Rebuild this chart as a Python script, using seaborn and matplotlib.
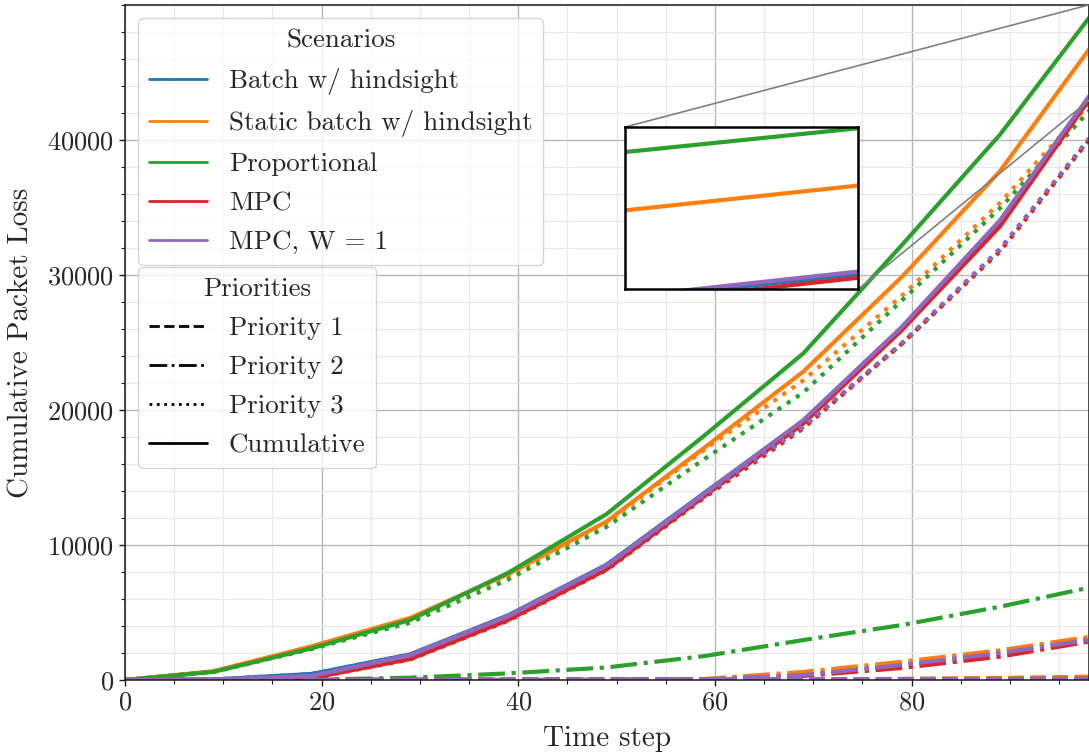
import numpy as np
import pandas as pd
import matplotlib
matplotlib.use("Agg")
import matplotlib.pyplot as plt
import seaborn as sns
from matplotlib.lines import Line2D
from matplotlib.ticker import MultipleLocator, FixedLocator
from mpl_toolkits.axes_grid1.inset_locator import mark_inset

# ---------------- data ----------------
steps = [0, 9, 19, 29, 39, 49, 59, 69, 79, 89, 99]

scenarios = ["Batch w/ hindsight", "Static batch w/ hindsight", "Proportional",
             "MPC", "MPC, W = 1"]
priorities = ["Priority 1", "Priority 2", "Priority 3", "Cumulative"]
colors = ["#1f77b4", "#ff7f0e", "#2ca02c", "#d62728", "#9467bd"]
y_ticks = [0, 10000, 20000, 30000, 40000]

# Batch w/ hindsight
batch_p1 = [0, 0, 10, 20, 30, 40, 50, 60, 70, 80, 90]
batch_p2 = [0, 0, 0, 0, 0, 10, 50, 380, 1150, 2050, 3120]
batch_p3 = [0, 40, 440, 1880, 4770, 8500, 13800, 18760, 24880, 31870, 40890]
batch_cum = [0, 40, 450, 1900, 4800, 8550, 13900, 19200, 26100, 34000, 44100]

# Static batch w/ hindsight
static_p1 = [0, 0, 0, 0, 0, 0, 10, 30, 80, 150, 260]
static_p2 = [0, 0, 0, 0, 0, 10, 80, 600, 1350, 2200, 3300]
static_p3 = [0, 650, 2450, 4550, 7750, 11650, 17100, 22200, 28450, 35350, 43400]
static_cum = [0, 650, 2500, 4600, 7850, 11750, 17250, 22850, 29850, 37700, 47650]

# Proportional
prop_p1 = [0, 0, 0, 0, 0, 0, 0, 0, 10, 10, 20]
prop_p2 = [0, 0, 20, 170, 490, 930, 1780, 2960, 4070, 5430, 6990]
prop_p3 = [0, 600, 2300, 4250, 7450, 11350, 16400, 21300, 28100, 34950, 42900]
prop_cum = [0, 600, 2350, 4450, 7950, 12300, 18150, 24200, 32200, 40400, 49950]

# MPC
mpc_p1 = [0, 0, 10, 20, 30, 40, 50, 60, 70, 80, 90]
mpc_p2 = [0, 0, 0, 0, 0, 0, 30, 300, 890, 1730, 2960]
mpc_p3 = [0, 20, 140, 1520, 4400, 8150, 13550, 18650, 24900, 31750, 40850]
mpc_cum = [0, 20, 150, 1550, 4450, 8200, 13650, 19000, 25900, 33600, 43950]

# MPC, W = 1
mpcw_p1 = [0, 0, 10, 20, 30, 40, 50, 60, 70, 80, 90]
mpcw_p2 = [0, 0, 0, 0, 0, 10, 50, 370, 1110, 2000, 3080]
mpcw_p3 = [0, 30, 290, 1830, 4720, 8450, 13750, 18800, 24950, 31950, 40950]
mpcw_cum = [0, 30, 300, 1850, 4750, 8500, 13850, 19250, 26150, 34050, 44200]

series = {
    scenarios[0]: [batch_p1, batch_p2, batch_p3, batch_cum],
    scenarios[1]: [static_p1, static_p2, static_p3, static_cum],
    scenarios[2]: [prop_p1, prop_p2, prop_p3, prop_cum],
    scenarios[3]: [mpc_p1, mpc_p2, mpc_p3, mpc_cum],
    scenarios[4]: [mpcw_p1, mpcw_p2, mpcw_p3, mpcw_cum],
}

rows = []
for scen, lists in series.items():
    for prio, vals in zip(priorities, lists):
        for s, v in zip(steps, vals):
            rows.append({"step": s, "loss": v, "scenario": scen, "priority": prio})
df = pd.DataFrame(rows)

# ---------------- style ----------------
sns.set_style("ticks")
plt.rcParams["font.family"] = ["cmr10", "DejaVu Serif"]
plt.rcParams["mathtext.fontset"] = "cm"
plt.rcParams["axes.formatter.use_mathtext"] = True
plt.rcParams["axes.unicode_minus"] = False

palette = dict(zip(scenarios, colors))
dashes = {"Priority 1": (3.7, 1.6), "Priority 2": (6.4, 1.6, 1.0, 1.6),
          "Priority 3": (1.0, 1.65), "Cumulative": ""}

fig = plt.figure(figsize=(10.89, 7.55), dpi=100)
ax = fig.add_axes([125 / 1089, 1 - 680 / 755, 963.5 / 1089, 675 / 755])

sns.lineplot(data=df, x="step", y="loss", hue="scenario", style="priority",
             hue_order=scenarios, style_order=priorities, palette=palette,
             dashes=dashes, linewidth=3, legend=False, ax=ax)

ax.set_xlim(0, 98)
ax.set_ylim(0, 50000)
ax.xaxis.set_major_locator(MultipleLocator(20))
ax.xaxis.set_minor_locator(MultipleLocator(5))
ax.yaxis.set_major_locator(FixedLocator(y_ticks))
ax.yaxis.set_minor_locator(MultipleLocator(2000))
ax.set_axisbelow(True)
ax.grid(which="major", color="0.72", lw=1.0)
ax.grid(which="minor", color="0.91", lw=0.9)
ax.tick_params(which="major", direction="out", length=4.5, width=1, labelsize=19, color="0.1")
ax.tick_params(which="minor", direction="out", length=3, width=0.8, color="0.1")
for sp in ax.spines.values():
    sp.set_visible(True)
    sp.set_color("0.1")
    sp.set_linewidth(1.1)
ax.set_xlabel("Time step", fontsize=21, labelpad=8)
ax.set_ylabel("Cumulative Packet Loss", fontsize=21, labelpad=9)

# ---------------- legends ----------------
leg_kw = dict(fontsize=19.4, title_fontsize=19.4, labelspacing=0.56,
              handlelength=2.15, handletextpad=0.8)
scen_handles = [Line2D([], [], color=c, lw=2) for c in colors]
leg1 = ax.legend(scen_handles, scenarios, title="Scenarios", loc="upper left",
                 borderaxespad=0.5, **leg_kw)
ax.add_artist(leg1)
fig.canvas.draw()
bb = leg1.get_window_extent().transformed(ax.transAxes.inverted())
prio_handles = [Line2D([], [], color="black", lw=2, linestyle="--"),
                Line2D([], [], color="black", lw=2, linestyle="-."),
                Line2D([], [], color="black", lw=2, linestyle=":"),
                Line2D([], [], color="black", lw=2, linestyle="-")]
leg2 = ax.legend(prio_handles, priorities, title="Priorities", loc="upper left",
                 bbox_to_anchor=(bb.x0, bb.y0 - 0.003), borderaxespad=0, **leg_kw)

# ---------------- inset ----------------
axins = ax.inset_axes([0.5192, 0.5793, 0.2420, 0.24])
sns.lineplot(data=df, x="step", y="loss", hue="scenario", style="priority",
             hue_order=scenarios, style_order=priorities, palette=palette,
             dashes=dashes, linewidth=3, legend=False, ax=axins)
axins.set_xlim(98, 99)
axins.set_ylim(43500, 50000)
axins.set_xticks([])
axins.set_yticks([])
axins.set_xlabel("")
axins.set_ylabel("")
axins.grid(False)
axins.set_facecolor("white")
for sp in axins.spines.values():
    sp.set_visible(True)
    sp.set_color("black")
    sp.set_linewidth(1.8)
mark_inset(ax, axins, loc1=2, loc2=4, fc="none", ec="0.5", lw=1.2)

fig.savefig("out.png", dpi=100)
